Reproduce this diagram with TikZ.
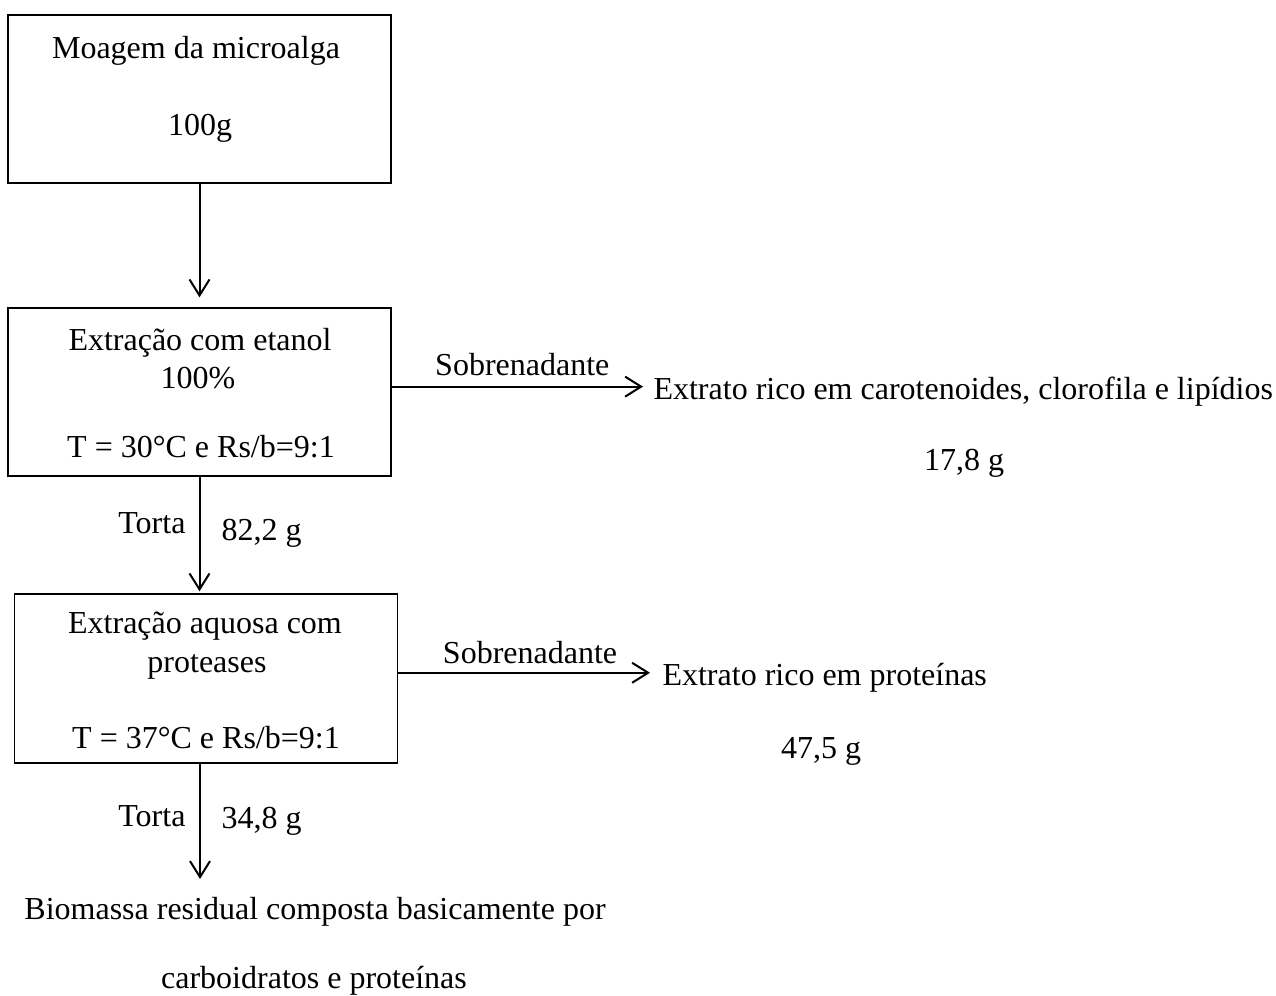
\documentclass[tikz,border=0pt]{standalone}
\usepackage{fontspec}
\setmainfont{Liberation Serif}
\usetikzlibrary{
  calc,positioning,
  arrows.meta
}

\tikzset{
  etapa/.style={draw,line width=0.5pt,minimum width=143.6pt,minimum height=63pt,inner sep=0pt},
  fluxo/.style={line width=0.75pt,-{Straight Barb[length=6pt,width=7.5pt]}},
  texto/.style={anchor=base,inner sep=0pt}
}

\begin{document}
\begin{tikzpicture}[x=0.375pt,y=-0.375pt,font=\fontsize{12pt}{14.4pt}\selectfont]
\useasboundingbox (0,0) rectangle (1276,996);

% etapas
\node[etapa] (moagem) at (199.5,99) {};
\node[etapa] (etanol) at (199.5,392) {};
\node[etapa,minimum height=63.4pt] (aquosa) at (206,678.5) {};

\node[texto] (moagem1) at (196,59) {Moagem da microalga};
\node[texto] (moagem2) at (200,136) {100g};

\node[texto] (etanol1) at (200,351) {Extração com etanol};
\node[texto] (etanol2) at (198,389) {100\%};
\node[texto] (etanol3) at (201,458) {T = 30°C e Rs/b=9:1};

\node[texto] (aquosa1) at (205,634) {Extração aquosa com};
\node[texto] (aquosa2) at (207,673) {proteases};
\node[texto] (aquosa3) at (206,748) {T = 37°C e Rs/b=9:1};

% produtos
\node[texto,anchor=base west] (extrato1) at (653,400) {Extrato rico em carotenoides, clorofila e lipídios};
\node[texto] (massa1) at (964,471) {17,8 g};
\node[texto,anchor=base west] (extrato2) at (662,686) {Extrato rico em proteínas};
\node[texto] (massa2) at (821,758) {47,5 g};
\node[texto] (residuo1) at (315,919) {Biomassa residual composta basicamente por};
\node[texto] (residuo2) at (314,988) {carboidratos e proteínas};

\node[texto,anchor=base east] (torta1) at (186,534) {Torta};
\node[texto,anchor=base west] (torta1m) at (221,541) {82,2 g};
\node[texto,anchor=base east] (torta2) at (186,826) {Torta};
\node[texto,anchor=base west] (torta2m) at (221,828) {34,8 g};

% fluxos
\coordinate (s1) at ($(extrato1.west)+(0,-5.5)$);
\coordinate (s2) at ($(extrato2.west)+(0,-5.5)$);
\coordinate (fim) at (200,879);

\draw[fluxo,shorten >=3.75pt] (moagem.south) -- (etanol.north);
\draw[fluxo,shorten >=0.75pt] (etanol.south) -- (etanol.south |- aquosa.north);
\draw[fluxo] (fim |- aquosa.south) -- (fim);
\draw[fluxo,shorten >=3.75pt] (etanol.east |- s1) -- (s1)
  node[midway,above,inner sep=3.5pt] (sobre1) {Sobrenadante};
\draw[fluxo,shorten >=4.5pt] (aquosa.east |- s2) -- (s2)
  node[midway,above,inner sep=3pt] (sobre2) {Sobrenadante};
\end{tikzpicture}
\end{document}
